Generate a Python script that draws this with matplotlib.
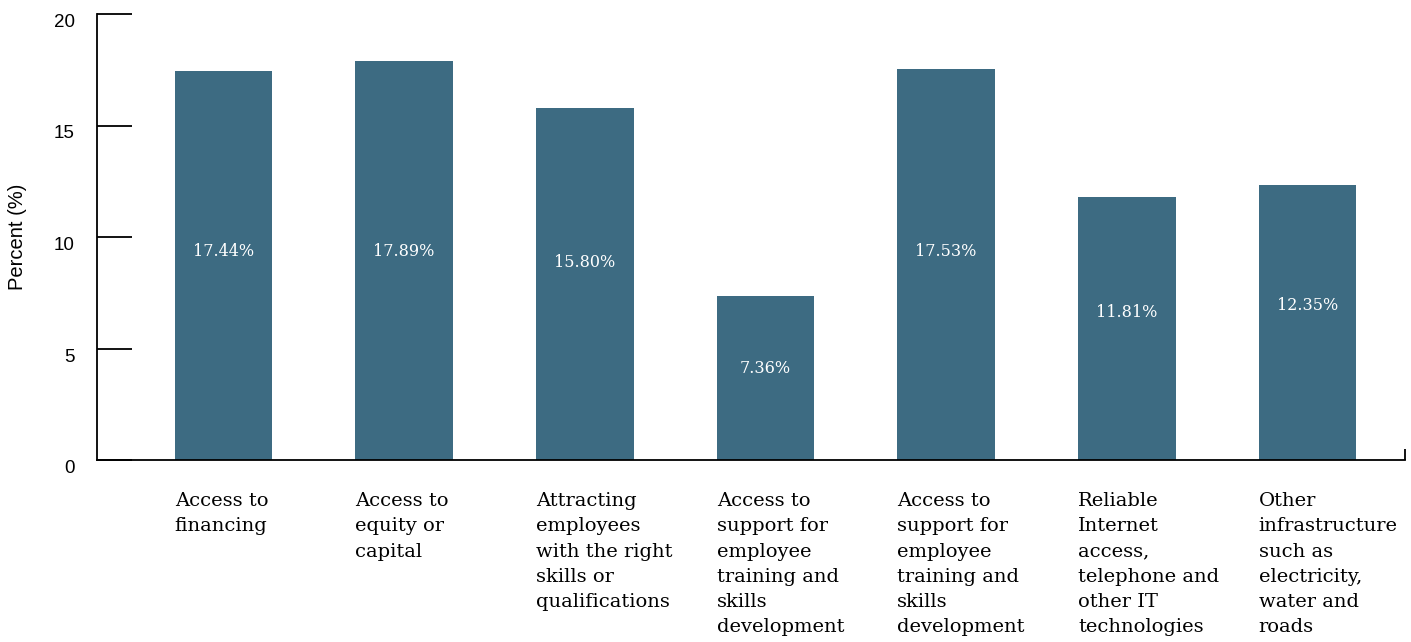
import numpy as np
import matplotlib
matplotlib.use("Agg")
import matplotlib.pyplot as plt

categories = [
    "Access to\nfinancing",
    "Access to\nequity or\ncapital",
    "Attracting\nemployees\nwith the right\nskills or\nqualifications",
    "Access to\nsupport for\nemployee\ntraining and\nskills\ndevelopment",
    "Access to\nsupport for\nemployee\ntraining and\nskills\ndevelopment",
    "Reliable\nInternet\naccess,\ntelephone and\nother IT\ntechnologies",
    "Other\ninfrastructure\nsuch as\nelectricity,\nwater and\nroads",
]
values = [17.44, 17.89, 15.80, 7.36, 17.53, 11.81, 12.35]
yticks = [0, 5, 10, 15, 20]

bar_color = "#3d6b82"
serif = ["DejaVu Serif"]
sans = ["Liberation Sans", "DejaVu Sans"]

fig = plt.figure(figsize=(14.11, 6.42), dpi=100)
ax = fig.add_axes([97 / 1411, 1 - 460 / 642, (1405 - 97) / 1411, 446 / 642])

x = np.arange(len(values))
width = 0.54
ax.bar(x, values, width=width, color=bar_color, zorder=2)

ax.set_xlim(-0.70, 6.54)
ax.set_ylim(0, 20)

# value labels inside the bars
for xi, v in zip(x, values):
    ax.text(xi, min(v * 0.56, 9.33), f"{v:.2f}%", ha="center", va="center",
            color="white", fontsize=11.5, family=serif)

# category labels under each bar, aligned to the bar's left edge
for xi, lab in zip(x, categories):
    ax.annotate(lab, xy=(xi - width / 2, 0), xycoords=("data", "axes fraction"),
                xytext=(0, -23), textcoords="offset points",
                ha="left", va="top", fontsize=14, family=serif,
                linespacing=1.52)

for side in ["top", "right"]:
    ax.spines[side].set_visible(False)
ax.spines["left"].set_linewidth(1.3)
ax.spines["bottom"].set_linewidth(1.3)

ax.set_yticks(yticks)
ax.set_yticklabels([str(t) for t in yticks], family=sans, fontsize=13.5, va="top")
ax.tick_params(axis="y", direction="in", length=25, width=1.3, pad=16)
ax.set_xticks([6.54])
ax.set_xticklabels([""])
ax.tick_params(axis="x", direction="in", length=8, width=1.3)

ax.set_ylabel("Percent (%)", family=sans, fontsize=14.5, labelpad=19)

fig.savefig("out.png", dpi=100)
